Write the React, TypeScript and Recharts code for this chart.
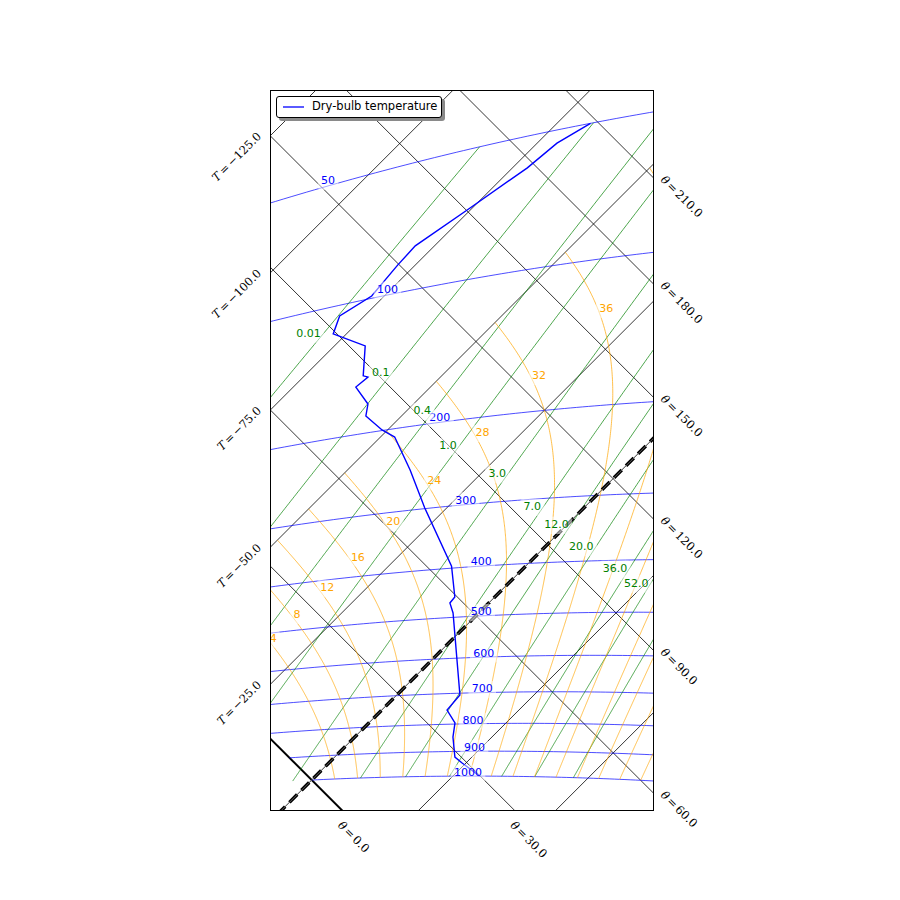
import React from 'react';
import { ComposedChart, Line, XAxis, YAxis, ReferenceDot, ReferenceArea, Legend } from 'recharts';

// ---------------- data ----------------
const PROFILE_NAME = 'Dry-bulb temperature';
const profilePressure = [50, 53.6, 59.2, 68.8, 79.3, 86.2, 98.8, 106.0, 115.9, 127.8, 149.1, 150.7, 156.9, 173.0, 183.5, 199.4, 208.5, 247.3, 299.0, 396.4, 456.3, 468.2, 490.2, 705.5, 752.1, 796.1, 845.9, 921.8, 945.8, 1000];
const profileTemperature = [-68.9, -71.4, -72.3, -75.4, -78.5, -78.2, -77.3, -79.5, -77.4, -69.4, -64.3, -63.2, -63.6, -58.3, -56.5, -51.0, -47.4, -38.6, -29.0, -13.5, -7.3, -7.1, -4.7, 11.5, 11.9, 15.7, 17.9, 21.9, 24.3, 29.9];

const isotherms = [-125, -100, -75, -50, -25, 0, 25, 50];
const isothermLabels = [-125, -100, -75, -50, -25];
const dryAdiabats = [0, 30, 60, 90, 120, 150, 180, 210, 240];
const dryAdiabatRightLabels = [60, 90, 120, 150, 180, 210];
const dryAdiabatBottomLabels = [0, 30];
const isobars = [50, 100, 200, 300, 400, 500, 600, 700, 800, 900, 1000];
const isobarLabelTemperature = [-104.4, -73.1, -40.2, -20.4, -6.3, 2.8, 10.8, 17.0, 21.0, 26.3, 30.3];
const mixingRatios = [0.01, 0.1, 0.4, 1.0, 3.0, 7.0, 12.0, 20.0, 36.0, 52.0, 80.0];
const mixingRatioLabels = ['0.01', '0.1', '0.4', '1.0', '3.0', '7.0', '12.0', '20.0', '36.0', '52.0'];
const mixingRatioLabelPressure = [116, 153, 191, 230, 268, 316, 345, 382, 421, 449];
const wetAdiabats = [4, 8, 12, 16, 20, 24, 28, 32, 36, 40, 44, 48, 52, 56, 60];

// ---------------- tephigram transform ----------------
const KELVIN = 273.15;
const KAPPA = 0.2857;
const ENTROPY_SCALE = 301.68;
const MIN_PRESSURE = 50;
const MAX_PRESSURE = 1000;
const WET_MIN_T = -50;
const L_OVER_RV = 5419;

const toXY = (T: number, thetaC: number) => {
  const b = ENTROPY_SCALE * Math.log((thetaC + KELVIN) / KELVIN);
  return { x: (T + b) / 2, y: (b - T) / 2 };
};
const thetaOf = (T: number, p: number) => (T + KELVIN) * Math.pow(1000 / p, KAPPA) - KELVIN;
const tempOnIsobarAtTheta = (thetaC: number, p: number) => (thetaC + KELVIN) * Math.pow(p / 1000, KAPPA) - KELVIN;

const es = (T: number) => 6.112 * Math.exp(L_OVER_RV * (1 / KELVIN - 1 / (T + KELVIN)));
const ws = (T: number, p: number) => { const e = es(T); return (0.622 * e) / (p - e); };
const dTdp = (T: number, p: number) => {
  const Rd = 287.04, Cp = 1005.7, Lv = 2.501e6, eps = 0.622;
  const TK = T + KELVIN;
  const r = ws(T, p);
  return (Rd * TK + Lv * r) / (p * (Cp + (Lv * Lv * r * eps) / (Rd * TK * TK)));
};
const mixingRatioTemperature = (w: number, p: number) => {
  const e = (w * p) / (622 + w);
  const inv = 1 / KELVIN - Math.log(e / 6.112) / L_OVER_RV;
  return 1 / inv - KELVIN;
};

// ---------------- layout ----------------
const CHART_W = 884;
const CHART_H = 884;
const MARGIN = { top: 82, left: 262, right: 239, bottom: 82 };
const X_DOMAIN: [number, number] = [-7.61, 62.2];
const Y_DOMAIN: [number, number] = [-5.46, 125.78];
const CENTER = { x: (X_DOMAIN[0] + X_DOMAIN[1]) / 2, y: (Y_DOMAIN[0] + Y_DOMAIN[1]) / 2 };
const CENTER_T = CENTER.x - CENTER.y;
const LABEL_FS = 11;
const CLIP_ID = 'tephiClip';

type Pt = { x: number; y: number };

// geometry built from the value arrays
const isothermLines = isotherms.map((T) => [toXY(T, -80), toXY(T, 320)]);
const dryAdiabatLines = dryAdiabats.map((th) => [toXY(-170, th), toXY(120, th)]);
const isobarLines = isobars.map((p) => {
  const pts: Pt[] = [];
  const t0 = tempOnIsobarAtTheta(0, p);
  for (let T = t0; T <= 90; T += 1) pts.push(toXY(T, thetaOf(T, p)));
  return pts;
});
const mixingLines = mixingRatios.map((w) => {
  const pts: Pt[] = [];
  for (let p = MAX_PRESSURE; p >= MIN_PRESSURE; p -= 2) {
    const T = mixingRatioTemperature(w, p);
    pts.push(toXY(T, thetaOf(T, p)));
  }
  return pts;
});
type WetPt = Pt & { T: number };
const wetLines: WetPt[][] = wetAdiabats.map((tw) => {
  const pts: WetPt[] = [];
  let T = tw;
  let p = MAX_PRESSURE;
  const h = -2;
  pts.push({ ...toXY(T, thetaOf(T, p)), T });
  while (p > MIN_PRESSURE) {
    const k1 = dTdp(T, p);
    const k2 = dTdp(T + (h / 2) * k1, p + h / 2);
    const k3 = dTdp(T + (h / 2) * k2, p + h / 2);
    const k4 = dTdp(T + h * k3, p + h);
    const Tn = T + (h / 6) * (k1 + 2 * k2 + 2 * k3 + k4);
    const pn = p + h;
    if (Tn < WET_MIN_T) {
      const f = (T - WET_MIN_T) / (T - Tn);
      const pe = p + f * h;
      pts.push({ ...toXY(WET_MIN_T, thetaOf(WET_MIN_T, pe)), T: WET_MIN_T });
      break;
    }
    T = Tn;
    p = pn;
    pts.push({ ...toXY(T, thetaOf(T, p)), T });
  }
  return pts;
});
const profileLine = profilePressure.map((p, i) => toXY(profileTemperature[i], thetaOf(profileTemperature[i], p)));

// point where a wet adiabat crosses the isotherm through the plot centre
const wetLabelPoint = (pts: WetPt[]): Pt | null => {
  for (let i = 1; i < pts.length; i++) {
    const a = pts[i - 1], b = pts[i];
    if ((a.T - CENTER_T) * (b.T - CENTER_T) <= 0) {
      const f = (a.T - CENTER_T) / (a.T - b.T || 1);
      return { x: a.x + f * (b.x - a.x), y: a.y + f * (b.y - a.y) };
    }
  }
  return null;
};

const textWidth = (s: string, fs: number) => {
  let w = 0;
  for (const ch of s) w += ch === '.' ? 0.318 * fs : 0.636 * fs;
  return w;
};

const IsoLabel = ({ cx, cy, text, color, ha }: any) => {
  if (cx == null || cy == null || isNaN(cx) || isNaN(cy)) return null;
  const fs = LABEL_FS;
  const w = textWidth(text, fs);
  const x0 = ha === 'right' ? cx - w : cx;
  const baseline = cy;
  const top = baseline - 0.74 * fs;
  const pad = 0.3 * fs;
  return (
    <g clipPath={`url(#${CLIP_ID})`}>
      <rect x={x0 - pad} y={top - pad} width={w + 2 * pad} height={baseline + 0.24 * fs - top + 2 * pad} rx={pad} fill="#ffffff" fillOpacity={0.5} />
      <text x={x0} y={baseline} fill={color} fontSize={fs} fontFamily="DejaVu Sans">{text}</text>
    </g>
  );
};

const MathLabel = ({ cx, cy, sym, value, rotate, anchor, dx, dy }: any) => {
  if (cx == null || cy == null) return null;
  const x = cx + dx;
  const y = cy + dy;
  const num = value.toFixed(1).replace('-', '\u2212');
  return (
    <text x={x} y={y} transform={`rotate(${rotate} ${x} ${y})`} textAnchor={anchor} fontSize={11.5} fontFamily="DejaVu Serif" fill="#000">
      <tspan fontStyle="italic">{sym}</tspan>
      <tspan dx={2}>=</tspan>
      <tspan dx={2}>{num}</tspan>
    </text>
  );
};

const LegendBox = () => (
  <div style={{ position: 'relative', width: 166, height: 22, boxSizing: 'border-box', border: '1px solid #000', borderRadius: 3, background: '#fff', boxShadow: '3px 3px 0 #8a8a8a', fontFamily: 'DejaVu Sans', fontSize: 11.5, color: '#000' }}>
    <svg width={22} height={4} style={{ position: 'absolute', left: 6, top: 8 }}>
      <line x1={0} y1={2} x2={21} y2={2} stroke="#0000ff" strokeWidth={1.3} />
    </svg>
    <span style={{ position: 'absolute', left: 35, top: 3, lineHeight: '13px', whiteSpace: 'nowrap' }}>{PROFILE_NAME}</span>
  </div>
);

const thin = 0.7;

export default function App() {
  const lines: React.ReactNode[] = [];
  isothermLines.forEach((d, i) => lines.push(<Line key={`it${i}`} data={d} dataKey="y" stroke="#000" strokeWidth={0.8} dot={false} isAnimationActive={false} legendType="none" />));
  dryAdiabatLines.forEach((d, i) => lines.push(<Line key={`da${i}`} data={d} dataKey="y" stroke="#000" strokeWidth={dryAdiabats[i] === 0 ? 2 : 0.8} dot={false} isAnimationActive={false} legendType="none" />));
  isobarLines.forEach((d, i) => lines.push(<Line key={`ib${i}`} data={d} dataKey="y" stroke="#0000ff" strokeWidth={thin} dot={false} isAnimationActive={false} legendType="none" />));
  mixingLines.forEach((d, i) => lines.push(<Line key={`mr${i}`} data={d} dataKey="y" stroke="#008000" strokeWidth={thin} dot={false} isAnimationActive={false} legendType="none" />));
  wetLines.forEach((d, i) => lines.push(<Line key={`wa${i}`} data={d} dataKey="y" stroke="#ffa500" strokeWidth={thin} dot={false} isAnimationActive={false} legendType="none" />));

  const zeroIso = isothermLines[isotherms.indexOf(0)];

  const labels: React.ReactNode[] = [];
  isobars.forEach((p, i) => {
    const T = isobarLabelTemperature[i];
    const q = toXY(T, thetaOf(T, p));
    labels.push(<ReferenceDot key={`ibl${i}`} x={q.x} y={q.y} ifOverflow="visible" shape={(pr: any) => <IsoLabel cx={pr.cx} cy={pr.cy} text={String(p)} color="#0000ff" ha="right" />} />);
  });
  mixingRatioLabels.forEach((txt, i) => {
    const w = mixingRatios[i];
    const p = mixingRatioLabelPressure[i];
    const T = mixingRatioTemperature(w, p);
    const q = toXY(T, thetaOf(T, p));
    labels.push(<ReferenceDot key={`mrl${i}`} x={q.x} y={q.y} ifOverflow="visible" shape={(pr: any) => <IsoLabel cx={pr.cx} cy={pr.cy} text={txt} color="#008000" ha="right" />} />);
  });
  wetAdiabats.forEach((tw, i) => {
    const q = wetLabelPoint(wetLines[i]);
    if (!q) return;
    labels.push(<ReferenceDot key={`wal${i}`} x={q.x} y={q.y} ifOverflow="visible" shape={(pr: any) => <IsoLabel cx={pr.cx} cy={pr.cy} text={String(tw)} color="#ffa500" ha="left" />} />);
  });

  const axisLabels: React.ReactNode[] = [];
  isothermLabels.forEach((T, i) => {
    const x = X_DOMAIN[0];
    const y = X_DOMAIN[0] - T;
    axisLabels.push(<ReferenceDot key={`itl${i}`} x={x} y={y} ifOverflow="visible" shape={(pr: any) => <MathLabel cx={pr.cx} cy={pr.cy} sym="T" value={T} rotate={-45} anchor="end" dx={-8} dy={1} />} />);
  });
  dryAdiabatRightLabels.forEach((th, i) => {
    const b = ENTROPY_SCALE * Math.log((th + KELVIN) / KELVIN);
    const x = X_DOMAIN[1];
    const y = b - X_DOMAIN[1];
    axisLabels.push(<ReferenceDot key={`dar${i}`} x={x} y={y} ifOverflow="visible" shape={(pr: any) => <MathLabel cx={pr.cx} cy={pr.cy} sym={'\u03b8'} value={th} rotate={45} anchor="start" dx={7} dy={3} />} />);
  });
  dryAdiabatBottomLabels.forEach((th, i) => {
    const b = ENTROPY_SCALE * Math.log((th + KELVIN) / KELVIN);
    const y = Y_DOMAIN[0];
    const x = b - Y_DOMAIN[0];
    axisLabels.push(<ReferenceDot key={`dab${i}`} x={x} y={y} ifOverflow="visible" shape={(pr: any) => <MathLabel cx={pr.cx} cy={pr.cy} sym={'\u03b8'} value={th} rotate={45} anchor="start" dx={-4.5} dy={16} />} />);
  });

  return (
    <div style={{ width: CHART_W, height: CHART_H, position: 'relative' }}>
      <ComposedChart width={CHART_W} height={CHART_H} margin={MARGIN}>
        <XAxis type="number" dataKey="x" domain={X_DOMAIN} allowDataOverflow hide />
        <YAxis type="number" dataKey="y" domain={Y_DOMAIN} allowDataOverflow hide />
        <ReferenceArea x1={X_DOMAIN[0]} x2={X_DOMAIN[1]} y1={Y_DOMAIN[0]} y2={Y_DOMAIN[1]} ifOverflow="visible"
          shape={(pr: any) => (
            <defs>
              <clipPath id={CLIP_ID}>
                <rect x={pr.x} y={pr.y} width={pr.width} height={pr.height} />
              </clipPath>
            </defs>
          )} />
        {lines}
        <Line data={zeroIso} dataKey="y" stroke="#000" strokeWidth={3.5} strokeDasharray="11 6" dot={false} isAnimationActive={false} legendType="none" />
        <Line data={zeroIso} dataKey="y" stroke="#777" strokeWidth={0.8} dot={false} isAnimationActive={false} legendType="none" />
        <Line data={profileLine} dataKey="y" name={PROFILE_NAME} stroke="#0000ff" strokeWidth={1.4} dot={false} isAnimationActive={false} />
        {labels}
        {axisLabels}
        <Legend layout="horizontal" verticalAlign="middle" align="center" wrapperStyle={{ left: 268, top: 88, width: 170, height: 26 }} content={() => <LegendBox />} />
      </ComposedChart>
      <div style={{ position: 'absolute', left: MARGIN.left - 0.5, top: MARGIN.top - 0.5, width: 384, height: 721, boxSizing: 'border-box', border: '1px solid #000', pointerEvents: 'none' }} />
    </div>
  );
}
